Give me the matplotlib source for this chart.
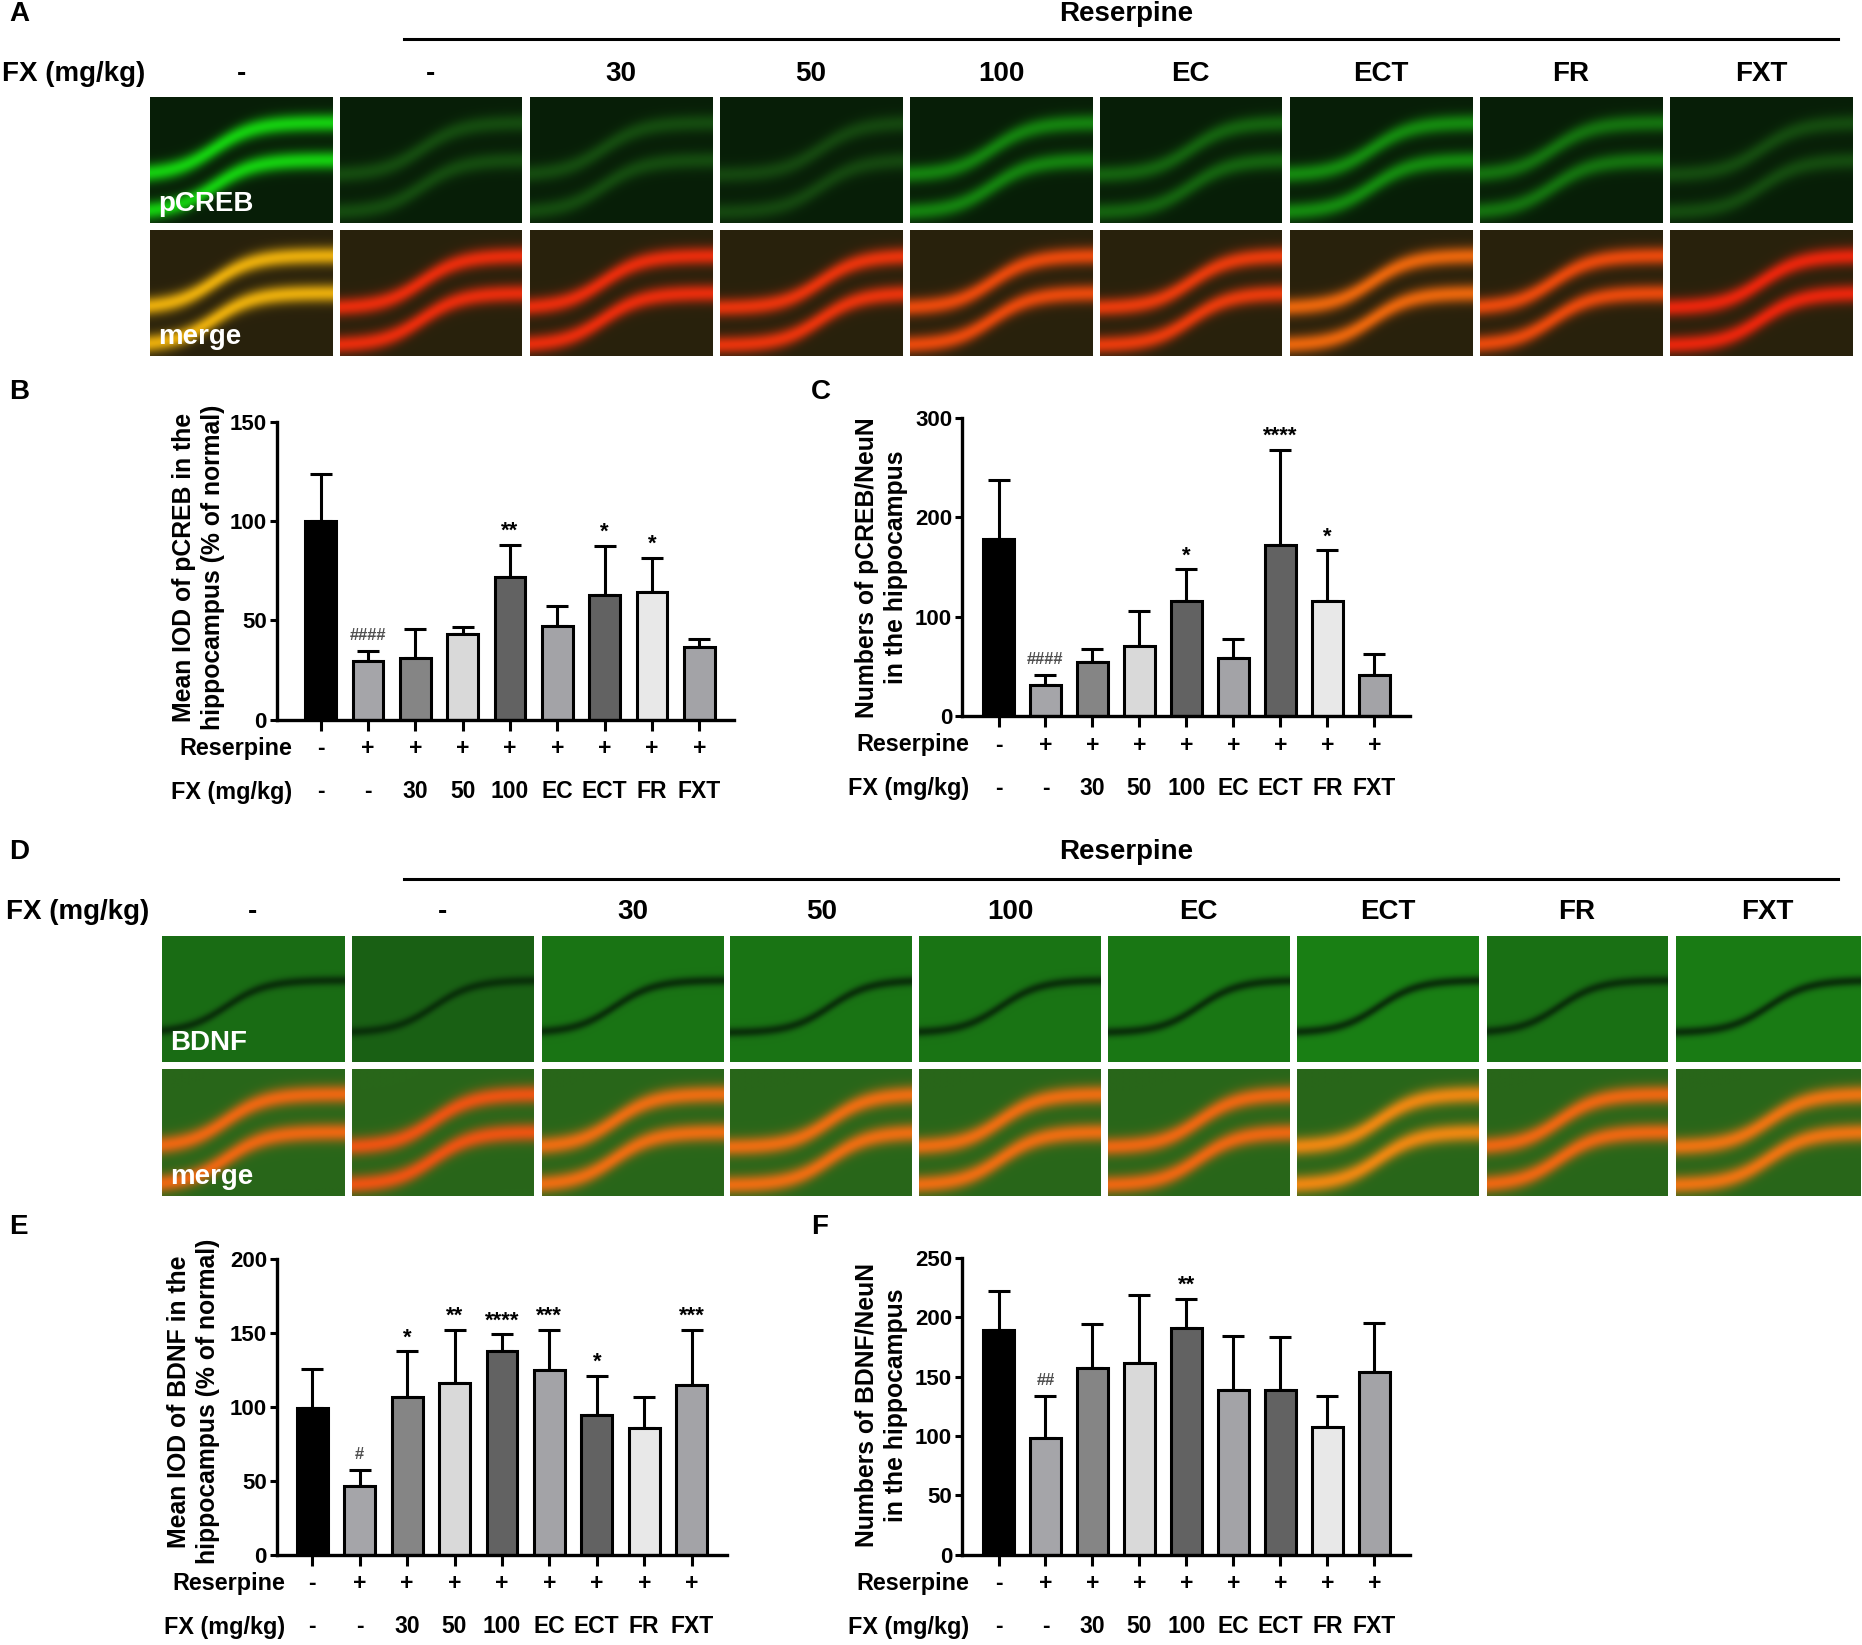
import numpy as np
import matplotlib
matplotlib.use("Agg")
import matplotlib.pyplot as plt

plt.rcParams['font.family'] = ['Liberation Sans', 'DejaVu Sans']
plt.rcParams['font.weight'] = 'bold'

# ---- data ----
groups = ['-', '-', '30', '50', '100', 'EC', 'ECT', 'FR', 'FXT']
reserpine = ['-', '+', '+', '+', '+', '+', '+', '+', '+']

pcreb_iod = [100, 29.5, 31, 43, 72, 47, 63, 64.5, 36.5]
pcreb_iod_err = [123.5, 34.5, 45.5, 46.5, 88, 57, 87.5, 81.5, 40.5]
pcreb_iod_sig = ['', '####', '', '', '**', '', '*', '*', '']

pcreb_num = [178, 31.5, 54.5, 71, 115.5, 58.5, 172.5, 115.5, 41]
pcreb_num_err = [238, 41.5, 67.5, 106, 148, 77.5, 268, 167, 62.5]
pcreb_num_sig = ['', '####', '', '', '*', '', '****', '*', '']

bdnf_iod = [99.5, 46.5, 107, 116, 138, 125, 94.5, 86, 115]
bdnf_iod_err = [125.5, 57, 137.5, 152, 149, 152, 121, 106.5, 152]
bdnf_iod_sig = ['', '#', '*', '**', '****', '***', '*', '', '***']

bdnf_num = [189, 98.5, 157.5, 161.5, 190.5, 139, 139, 107.5, 153.5]
bdnf_num_err = [222, 133.5, 194, 219, 215.5, 184.5, 183.5, 134, 195]
bdnf_num_sig = ['', '##', '', '', '**', '', '', '', '']

bar_colors = ['#000000', '#a5a5a9', '#858585', '#d9d9d9', '#626262',
              '#a3a3a7', '#626262', '#e8e8e8', '#a3a3a7']

# picture layout is measured on a 1568 x 1385 grid
W, H = 1568.0, 1385.0
fig = plt.figure(figsize=(18.62, 16.45), dpi=100)


def rect(x0, y0, x1, y1):
    return [x0 / W, 1 - y1 / H, (x1 - x0) / W, (y1 - y0) / H]


def ftext(x, y, s, **kw):
    fig.text(x / W, 1 - y / H, s, **kw)


def tile(kind, level, bend):
    h, w = 106, 154
    yy, xx = np.mgrid[0:1:h * 1j, 0:1:w * 1j]
    c1 = 0.62 - 0.42 / (1 + np.exp(-9 * (xx - bend)))
    c2 = c1 + 0.30
    m1 = np.exp(-((yy - c1) / 0.075) ** 2)
    m2 = np.exp(-((yy - c2) / 0.075) ** 2)
    m = np.clip(m1 + m2, 0, 1)
    if kind == 'pcreb':
        bg = np.array([0.03, 0.12, 0.03])
        band = np.array([0.08, 0.20 + 0.6 * level, 0.06])
    elif kind == 'pmerge':
        bg = np.array([0.16, 0.13, 0.05])
        band = np.array([0.90, 0.12 + 0.55 * level, 0.05])
    elif kind == 'bdnf':
        bg = np.array([0.10, 0.38 + 0.15 * level, 0.08])
        band = np.array([0.04, 0.20, 0.04])
        m = np.exp(-((yy - (c1 + c2) / 2) / 0.04) ** 2)
    else:
        bg = np.array([0.16, 0.40, 0.10])
        band = np.array([0.92, 0.33 + 0.25 * level, 0.07])
    img = bg[None, None, :] * (1 - m[..., None]) + band[None, None, :] * m[..., None]
    return np.clip(img, 0, 1)


def image_block(xs, y_rows, kinds, levels, bends, names, head_y, letter, letter_y,
                res_y, line_y, fx_x):
    ftext(8, letter_y, letter, fontsize=20, ha='left', va='center')
    ftext(948, res_y, 'Reserpine', fontsize=20, ha='center', va='center')
    fig.add_artist(plt.Line2D([340 / W, 1548 / W], [1 - line_y / H] * 2,
                              color='black', lw=2.2))
    ftext(fx_x, head_y, 'FX (mg/kg)', fontsize=20, ha='left', va='center')
    for i, (x0, x1) in enumerate(xs):
        ftext((x0 + x1) / 2, head_y, groups[i], fontsize=20, ha='center', va='center')
        for r, (y0, y1) in enumerate(y_rows):
            ax = fig.add_axes(rect(x0, y0, x1, y1))
            ax.imshow(tile(kinds[r], levels[r][i], bends[i]), aspect='auto',
                      interpolation='bilinear')
            ax.set_axis_off()
    for r, (y0, y1) in enumerate(y_rows):
        ftext(xs[0][0] + 7, y1 - 16, names[r], fontsize=20, color='white',
              ha='left', va='center')


def bar_panel(box, vals, tops, sig, ymax, ystep, ylabel, ylab_xy, letter, letter_xy,
              row_x, xlims):
    ax = fig.add_axes(rect(*box))
    x = np.arange(len(vals))
    vals = np.array(vals)
    tops = np.array(tops)
    ax.errorbar(x, vals, yerr=[np.zeros(len(vals)), tops - vals], fmt='none',
                ecolor='black', elinewidth=2.2, capsize=8, capthick=2.2, zorder=1)
    ax.bar(x, vals, 0.65, color=bar_colors, edgecolor='black', linewidth=2.2, zorder=2)
    for xi, t, s in zip(x, tops, sig):
        if not s:
            continue
        if s.startswith('#'):
            ax.annotate(s, (xi, t), xytext=(0, 6), textcoords='offset points',
                        ha='center', va='bottom', fontsize=12, color='#505050')
        else:
            ax.annotate(s, (xi, t), xytext=(0, 2), textcoords='offset points',
                        ha='center', va='bottom', fontsize=16)
    ax.set_xlim(*xlims)
    ax.set_ylim(0, ymax)
    ax.set_yticks(np.arange(0, ymax + 1, ystep))
    ax.set_xticks(x)
    ax.set_xticklabels([])
    ax.tick_params(axis='both', width=2.2, length=5, labelsize=16, pad=2)
    ax.tick_params(axis='x', length=8)
    for s in ['top', 'right']:
        ax.spines[s].set_visible(False)
    for s in ['left', 'bottom']:
        ax.spines[s].set_linewidth(2.4)
    ax.patch.set_alpha(0)
    for xi in x:
        ax.annotate(reserpine[xi], (xi, 0), xycoords=('data', 'axes fraction'),
                    xytext=(0, -21), textcoords='offset points', ha='center',
                    va='center', fontsize=16.5)
        ax.annotate(groups[xi], (xi, 0), xycoords=('data', 'axes fraction'),
                    xytext=(0, -52), textcoords='offset points', ha='center',
                    va='center', fontsize=16.5)
    ytop = box[3]
    ftext(row_x, ytop + 24, 'Reserpine', fontsize=16.8, ha='right', va='center')
    ftext(row_x, ytop + 61, 'FX (mg/kg)', fontsize=16.8, ha='right', va='center')
    ftext(ylab_xy[0], ylab_xy[1], ylabel, fontsize=17.8, rotation=90, ha='center',
          va='center', multialignment='center', linespacing=1.25)
    ftext(letter_xy[0], letter_xy[1], letter, fontsize=20, ha='left', va='center')
    return ax


# ---- panel A ----
xs_a = [(126, 280), (286, 439), (446, 600), (606, 760), (766, 920),
        (926, 1079), (1086, 1240), (1246, 1400), (1406, 1560)]
bends = [0.35, 0.45, 0.40, 0.55, 0.45, 0.50, 0.45, 0.40, 0.50]
lv_pcreb = [1.0, 0.15, 0.15, 0.12, 0.5, 0.3, 0.55, 0.4, 0.15]
lv_pmerge = [1.0, 0.1, 0.1, 0.15, 0.3, 0.2, 0.5, 0.3, 0.05]
image_block(xs_a, [(82, 188), (194, 300)], ['pcreb', 'pmerge'],
            [lv_pcreb, lv_pmerge], bends, ['pCREB', 'merge'],
            62, 'A', 12, 12, 33, 2)

# ---- panel D ----
xs_d = [(136, 290), (296, 449), (456, 609), (615, 768), (774, 927),
        (933, 1086), (1092, 1245), (1252, 1404), (1411, 1566)]
lv_bdnf = [0.3, 0.0, 0.5, 0.5, 0.5, 0.6, 0.8, 0.4, 0.7]
lv_bmerge = [0.3, 0.0, 0.4, 0.4, 0.4, 0.3, 0.8, 0.3, 0.5]
image_block(xs_d, [(788, 894), (900, 1007)], ['bdnf', 'bmerge'],
            [lv_bdnf, lv_bmerge], bends, ['BDNF', 'merge'],
            768, 'D', 717, 717, 740, 5)

# ---- bar panels ----
bar_panel((233, 355, 618, 606), pcreb_iod, pcreb_iod_err, pcreb_iod_sig, 150, 50,
          'Mean IOD of pCREB in the\nhippocampus (% of normal)', (167, 478),
          'B', (8, 330), 246, (-0.93, 8.73))
bar_panel((810, 352, 1187, 603), pcreb_num, pcreb_num_err, pcreb_num_sig, 300, 100,
          'Numbers of pCREB/NeuN\nin the hippocampus', (742, 478),
          'C', (683, 330), 816, (-0.78, 8.75))
bar_panel((233, 1060, 612, 1309), bdnf_iod, bdnf_iod_err, bdnf_iod_sig, 200, 50,
          'Mean IOD of BDNF in the\nhippocampus (% of normal)', (163, 1180),
          'E', (8, 1033), 240, (-0.75, 8.74))
bar_panel((810, 1059, 1187, 1309), bdnf_num, bdnf_num_err, bdnf_num_sig, 250, 50,
          'Numbers of BDNF/NeuN\nin the hippocampus', (742, 1183),
          'F', (683, 1033), 816, (-0.78, 8.75))

fig.savefig('out.png', dpi=100, facecolor='white')
